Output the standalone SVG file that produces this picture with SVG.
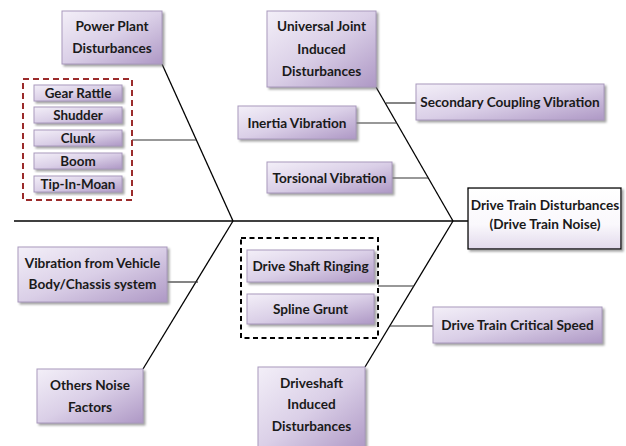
<svg xmlns="http://www.w3.org/2000/svg" width="626" height="446" viewBox="0 0 626 446">
<defs>
<linearGradient id="pg" x1="0" y1="0" x2="1" y2="1">
<stop offset="0" stop-color="#f3eff8"/>
<stop offset="0.5" stop-color="#dacfe7"/>
<stop offset="1" stop-color="#ae98c5"/>
</linearGradient>
<linearGradient id="wg" x1="0" y1="0" x2="0" y2="1">
<stop offset="0" stop-color="#ffffff"/>
<stop offset="0.6" stop-color="#faf8fc"/>
<stop offset="1" stop-color="#e2daec"/>
</linearGradient>
<filter id="sh" x="-10%" y="-10%" width="125%" height="130%">
<feDropShadow dx="2" dy="2" stdDeviation="1" flood-color="#7a7a7a" flood-opacity="0.7"/>
</filter>
<style>
.b{fill:url(#pg);stroke:#a999bd;stroke-width:1;filter:url(#sh)}
.h{fill:url(#wg);stroke:#000;stroke-width:1.3;filter:url(#sh)}
text{font-family:Lato,"Liberation Sans",sans-serif;font-weight:bold;font-size:13.6px;fill:#1a1a1a;text-anchor:middle}
.s{font-size:13.4px}
.c line{stroke:#000;stroke-width:1.3}
.c .br{stroke:#333;stroke-width:1.2}
</style>
</defs>
<rect width="626" height="446" fill="#fff"/>
<g class="c" id="connectors">
<line x1="14" y1="221" x2="468" y2="221"/>
<line x1="162" y1="64" x2="233" y2="221"/>
<line x1="143" y1="369" x2="233" y2="221"/>
<line x1="376" y1="87" x2="453" y2="221"/>
<line x1="365" y1="367" x2="453" y2="221"/>
<line class="br" x1="132" y1="140" x2="196" y2="140"/>
<line class="br" x1="167" y1="282" x2="198" y2="282"/>
<line class="br" x1="356" y1="123" x2="397" y2="123"/>
<line class="br" x1="386" y1="103" x2="416" y2="103"/>
<line class="br" x1="392" y1="178" x2="428" y2="178"/>
<line class="br" x1="378" y1="286" x2="414" y2="286"/>
<line class="br" x1="390" y1="326" x2="433" y2="326"/>
</g>
<g id="power"><rect class="b" x="62" y="11" width="100" height="53"/><text x="112" y="30.5">Power Plant</text><text x="112" y="53">Disturbances</text></g>
<g id="powerGroup">
<rect x="23" y="79" width="109" height="121" fill="none" stroke="#9b2b2b" stroke-width="2" stroke-dasharray="6,4"/>
<g id="gear"><rect class="b" x="34" y="85" width="88" height="16"/><text class="s" x="78" y="97.8">Gear Rattle</text></g>
<g id="shudder"><rect class="b" x="34" y="107" width="88" height="16"/><text class="s" x="78" y="119.8">Shudder</text></g>
<g id="clunk"><rect class="b" x="34" y="130" width="88" height="16"/><text class="s" x="78" y="142.8">Clunk</text></g>
<g id="boom"><rect class="b" x="34" y="153" width="88" height="16"/><text class="s" x="78" y="165.8">Boom</text></g>
<g id="tip"><rect class="b" x="34" y="176" width="88" height="16"/><text class="s" x="78" y="188.8">Tip-In-Moan</text></g>
</g>
<g id="universal"><rect class="b" x="267" y="11" width="109" height="76"/><text x="321.5" y="31">Universal Joint</text><text x="321.5" y="53.5">Induced</text><text x="321.5" y="76">Disturbances</text></g>
<g id="inertia"><rect class="b" x="238" y="106" width="118" height="33"/><text x="297" y="127.5">Inertia Vibration</text></g>
<g id="secondary"><rect class="b" x="416" y="84" width="188" height="36"/><text x="510" y="107">Secondary Coupling Vibration</text></g>
<g id="torsional"><rect class="b" x="267" y="162" width="125" height="31"/><text x="329.5" y="182.5">Torsional Vibration</text></g>
<g id="head"><rect class="h" x="468" y="188" width="153" height="61"/><text x="545" y="210">Drive Train Disturbances</text><text x="545" y="229">(Drive Train Noise)</text></g>
<g id="vibration"><rect class="b" x="18" y="247" width="149" height="55"/><text x="92.5" y="268">Vibration from Vehicle</text><text x="92.5" y="289">Body/Chassis system</text></g>
<g id="others"><rect class="b" x="37" y="369" width="106" height="54"/><text x="90" y="390">Others Noise</text><text x="90" y="412">Factors</text></g>
<g id="shaftGroup">
<rect x="241" y="238" width="137" height="100" fill="none" stroke="#000" stroke-width="2" stroke-dasharray="5,3.5"/>
<g id="ringing"><rect class="b" x="247" y="250" width="127" height="32"/><text x="310.5" y="271">Drive Shaft Ringing</text></g>
<g id="spline"><rect class="b" x="247" y="294" width="127" height="30"/><text x="310.5" y="314">Spline Grunt</text></g>
</g>
<g id="critical"><rect class="b" x="433" y="307" width="169" height="36"/><text x="517.5" y="330">Drive Train Critical Speed</text></g>
<g id="driveshaft"><rect class="b" x="258" y="367" width="107" height="84"/><text x="311.5" y="388">Driveshaft</text><text x="311.5" y="409">Induced</text><text x="311.5" y="431">Disturbances</text></g>
</svg>
